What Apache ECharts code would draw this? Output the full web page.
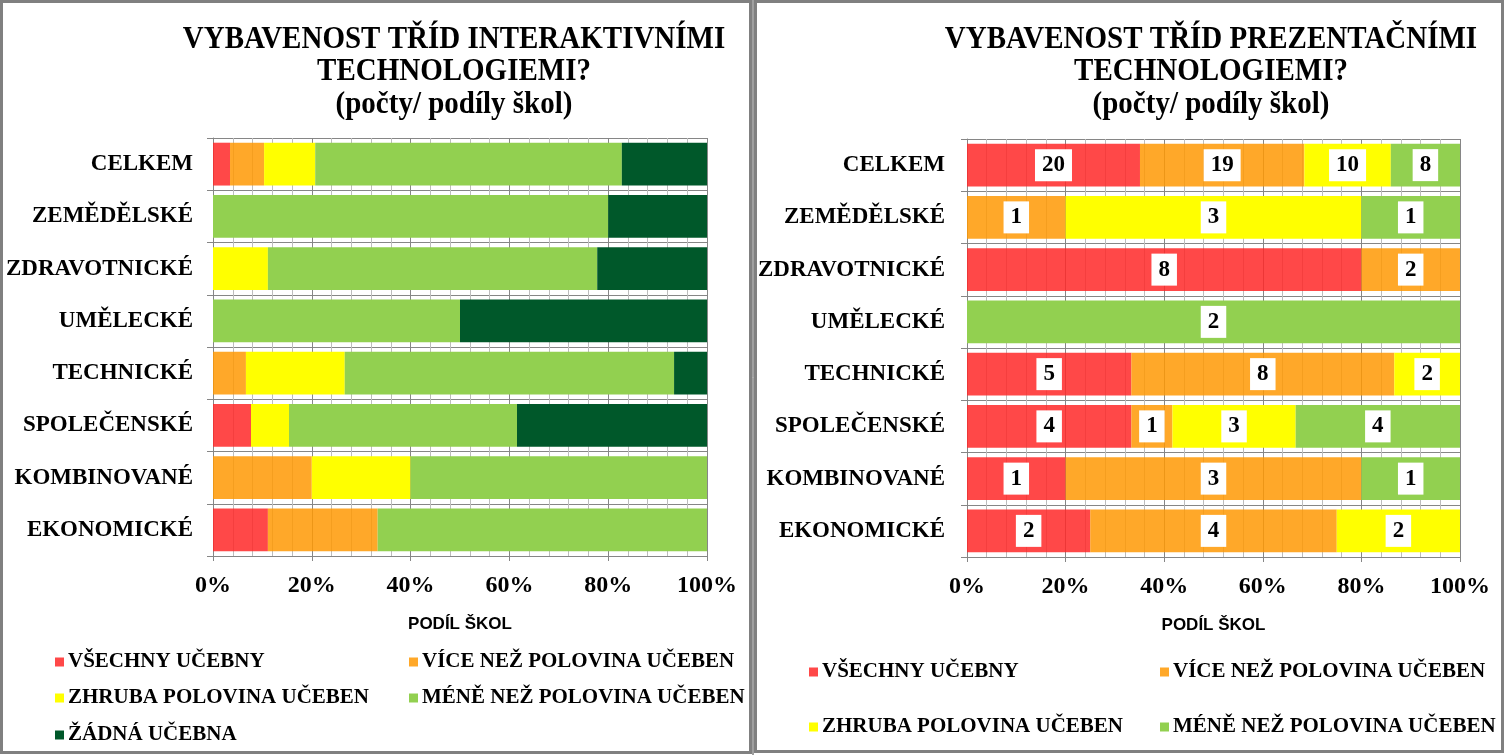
<!DOCTYPE html>
<html>
<head>
<meta charset="utf-8">
<script src="https://cdn.jsdelivr.net/npm/echarts@6/dist/echarts.min.js"></script>
<style>
html,body{margin:0;padding:0;background:#fff;}
#chart{width:1505px;height:755px;}
</style>
</head>
<body>
<div id="chart"></div>
<script>
// ---- data ----
const categories = ['CELKEM','ZEMĚDĚLSKÉ','ZDRAVOTNICKÉ','UMĚLECKÉ','TECHNICKÉ','SPOLEČENSKÉ','KOMBINOVANÉ','EKONOMICKÉ'];
const seriesNames = ['VŠECHNY UČEBNY','VÍCE NEŽ POLOVINA UČEBEN','ZHRUBA POLOVINA UČEBEN','MÉNĚ NEŽ POLOVINA UČEBEN','ŽÁDNÁ UČEBNA'];
const xTicks = [0,20,40,60,80,100];
const leftTitle = 'VYBAVENOST TŘÍD INTERAKTIVNÍMI\nTECHNOLOGIEMI?\n(počty/ podíly škol)';
const rightTitle = 'VYBAVENOST TŘÍD PREZENTAČNÍMI\nTECHNOLOGIEMI?\n(počty/ podíly škol)';
const axisTitle = 'PODÍL ŠKOL';

// left chart (interactive) – counts of schools
const leftAll  = [2,0,0,0,0,1,0,1];
const leftMore = [4,0,0,0,1,0,1,2];
const leftHalf = [6,0,1,0,3,1,1,0];
const leftLess = [36,4,6,1,10,6,3,6];
const leftNone = [10,1,2,1,1,5,0,0];

// right chart (presentation) – counts of schools
const rightAll  = [20,0,8,0,5,4,1,2];
const rightMore = [19,1,2,0,8,1,3,4];
const rightHalf = [10,3,0,0,2,3,0,2];
const rightLess = [8,1,0,2,0,4,1,0];

// ---- styles ----
const colors = ['#FF2828','#FF9904','#FFFF00','#92D050','#00582A'];
const opac = [0.85,0.85,1,1,1];
const serif = '"Liberation Serif","Times New Roman",serif';

function toPct(sets){
  const totals = categories.map((c,i)=>sets.reduce((s,a)=>s+a[i],0));
  return sets.map(a=>a.map((v,i)=>totals[i] ? v/totals[i]*100 : 0));
}
const leftSets = [leftAll,leftMore,leftHalf,leftLess,leftNone];
const rightSets = [rightAll,rightMore,rightHalf,rightLess];
const leftPct = toPct(leftSets);
const rightPct = toPct(rightSets);

function xAxis(gi){
  return {
    type:'value', gridIndex:gi, min:xTicks[0], max:xTicks[xTicks.length-1], interval:xTicks[1]-xTicks[0],
    axisLabel:{formatter:'{value}%', fontFamily:serif, fontWeight:'bold', fontSize:24, color:'#000', margin:18},
    axisLine:{show:true, lineStyle:{color:'#868686', width:1}},
    axisTick:{show:true, length:5, lineStyle:{color:'#868686'}},
    splitLine:{show:true, lineStyle:{color:'#868686', width:1}},
    minorTick:{show:false, splitNumber:5},
    minorSplitLine:{show:true, lineStyle:{color:'#bdbdbd', width:1}},
    name:axisTitle, nameLocation:'middle', nameGap:60,
    nameTextStyle:{fontFamily:'"Liberation Sans",Arial,sans-serif', fontWeight:'bold', fontSize:17, color:'#000'}
  };
}
function yAxis(gi, margin){
  return {
    type:'category', gridIndex:gi, data:categories, inverse:true,
    axisLabel:{fontFamily:serif, fontWeight:'bold', fontSize:23, color:'#000', margin:margin},
    axisLine:{show:true, lineStyle:{color:'#868686'}},
    axisTick:{show:true, length:6, lineStyle:{color:'#868686'}},
    splitLine:{show:true, lineStyle:{color:'#868686', width:1}}
  };
}

const series = [];
leftPct.forEach((arr,k)=>{
  series.push({
    type:'bar', name:seriesNames[k], stack:'L', xAxisIndex:0, yAxisIndex:0,
    barCategoryGap:'18%', data:arr,
    itemStyle:{color:colors[k], opacity:opac[k]},
    emphasis:{disabled:true}
  });
});
rightPct.forEach((arr,k)=>{
  const counts = rightSets[k];
  series.push({
    type:'bar', name:seriesNames[k], stack:'R', xAxisIndex:1, yAxisIndex:1,
    barCategoryGap:'18%',
    data:arr.map((v,i)=>({value:v, label:{show:counts[i]>0}})),
    itemStyle:{color:colors[k], opacity:opac[k]},
    label:{show:true, position:'inside', formatter:p=>String(counts[p.dataIndex]),
      fontFamily:serif, fontWeight:'bold', fontSize:23, color:'#000',
      backgroundColor:'#fff', padding:[5,7,4,7], opacity:1},
    emphasis:{disabled:true}
  });
});

function leg(name, left, top){
  return {
    data:[name], left:left, top:top, padding:0, icon:'rect', itemWidth:9, itemHeight:9, itemGap:6,
    selectedMode:false,
    textStyle:{fontFamily:serif, fontWeight:'bold', fontSize:21, color:'#000', lineHeight:22, padding:[0,0,0,-1]}
  };
}
const legends = [
  leg(seriesNames[0], 55, 651), leg(seriesNames[1], 409, 651),
  leg(seriesNames[2], 55, 687), leg(seriesNames[3], 409, 687),
  leg(seriesNames[4], 55, 724),
  leg(seriesNames[0], 809, 661), leg(seriesNames[1], 1160, 661),
  leg(seriesNames[2], 809, 716), leg(seriesNames[3], 1160, 716)
];

const option = {
  animation:false,
  backgroundColor:'#fff',
  grid:[
    {left:213, right:798, top:138, bottom:199, containLabel:false},
    {left:967, right:45, top:139, bottom:198, containLabel:false}
  ],
  xAxis:[xAxis(0), xAxis(1)],
  yAxis:[yAxis(0,20), yAxis(1,22)],
  legend:legends,
  series:series,
  graphic:[
    {type:'rect', shape:{x:1.5,y:1.5,width:749,height:751}, style:{fill:'none', stroke:'#808080', lineWidth:3}, z:-1},
    {type:'rect', shape:{x:755.5,y:1.5,width:747,height:750}, style:{fill:'none', stroke:'#808080', lineWidth:3}, z:-1},
    {type:'line', shape:{x1:753,y1:0,x2:753,y2:755}, style:{stroke:'#404040', lineWidth:1}},
    {type:'text', x:454, y:23, scaleY:1.08, style:{text:leftTitle, textAlign:'center', textVerticalAlign:'top',
      font:'bold 29px '+serif, lineHeight:30.5, fill:'#000'}},
    {type:'text', x:1211, y:23, scaleY:1.08, style:{text:rightTitle, textAlign:'center', textVerticalAlign:'top',
      font:'bold 29px '+serif, lineHeight:30.5, fill:'#000'}}
  ]
};
const chart = echarts.init(document.getElementById('chart'), null, {renderer:'canvas'});
chart.setOption(option);
</script>
</body>
</html>
